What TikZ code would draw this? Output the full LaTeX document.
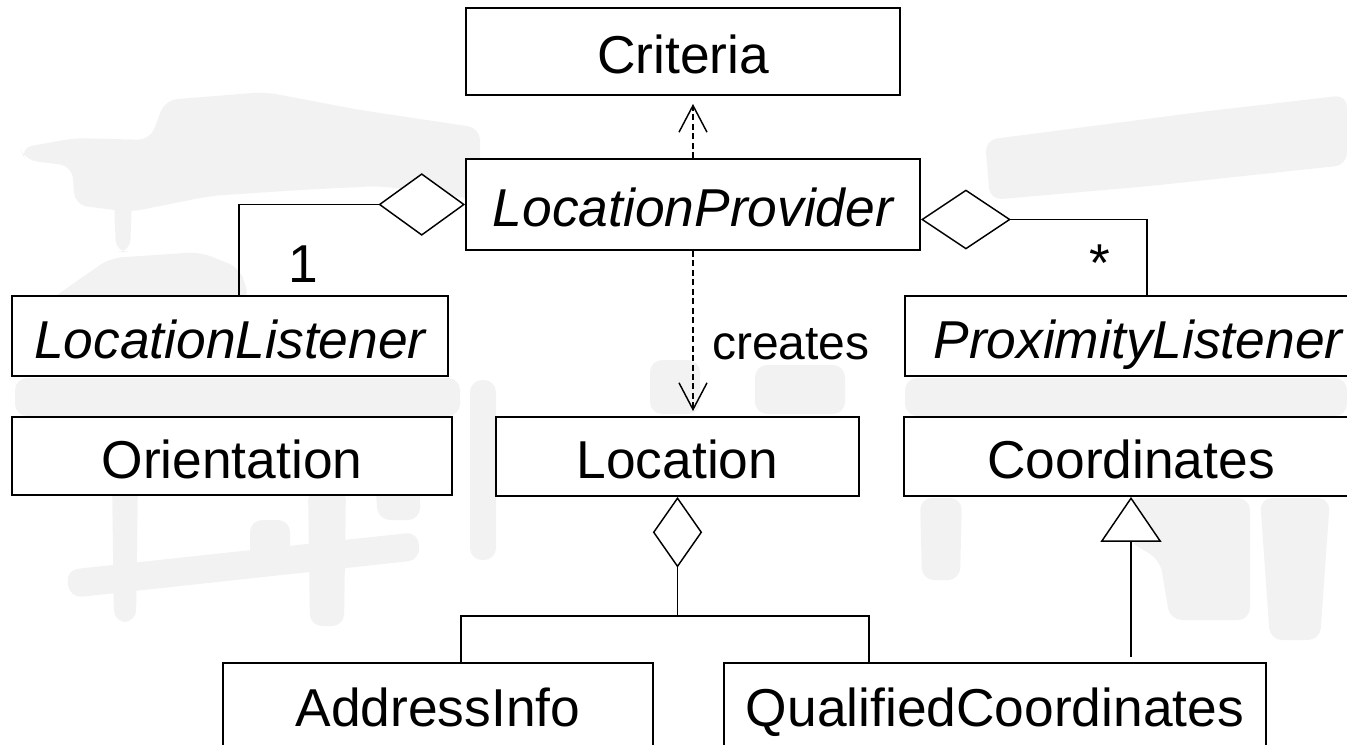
\documentclass[tikz,border=0pt]{standalone}
\usepackage{fontspec}
\setmainfont{Liberation Sans}
\usetikzlibrary{arrows.meta,calc}

\definecolor{haze}{gray}{0.95}

\begin{document}
\begin{tikzpicture}[x=0.75pt,y=-0.75pt,
  cls/.style={draw, line width=1.4pt, fill=white, inner sep=0pt,
    font=\fontsize{40}{48}\selectfont, text height=36pt, text depth=3pt},
  lowcls/.style={cls, text depth=12pt},
  sz/.style 2 args={minimum width=#1*0.75pt, minimum height=#2*0.75pt},
  assoc/.style={draw, line width=1.1pt},
  aggl/.style={assoc, {Diamond[fill=white, length=65pt, width=47pt]}-},
  aggr/.style={assoc, {Diamond[fill=white, length=67.5pt, width=45pt]}-},
  aggv/.style={assoc, {Diamond[fill=white, length=53pt, width=37pt]}-},
  gen/.style={assoc, -{Triangle[fill=white, length=33.75pt, width=45.75pt]}},
  dep/.style={assoc, dash pattern=on 4.5pt off 2.6pt,
    -{Straight Barb[length=20pt, width=21pt]}},
  lbl/.style={font=\fontsize{40}{48}\selectfont, inner sep=0pt},
  smalllbl/.style={font=\fontsize{36}{43}\selectfont, inner sep=0pt},
  blob/.style={fill=haze, draw=none, rounded corners=9pt}]

\useasboundingbox (0,0) rectangle (1347,744);
\clip (0,0) rectangle (1347,744);

% faint backdrop texture
\path[blob] (20,148) -- (75,138) -- (150,140) -- (165,100) -- (265,92) -- (360,110)
  -- (480,128) -- (480,200) -- (380,186) -- (300,190) -- (210,196) -- (130,212)
  -- (75,205) -- (72,166) -- (25,160) -- cycle;
\path[blob] (114,200) -- (132,200) -- (130,252) -- (116,252) -- cycle;
\path[blob] (50,300) -- (110,258) -- (200,252) -- (240,268) -- (250,300) -- cycle;
\path[blob] (985,140) -- (1200,112) -- (1347,95) -- (1347,165) -- (1150,186)
  -- (990,200) -- cycle;
\path[blob] (15,378) -- (460,378) -- (460,416) -- (15,416) -- cycle;
\path[blob] (112,480) -- (138,480) -- (136,622) -- (114,622) -- cycle;
\path[blob] (66,570) -- (418,532) -- (420,560) -- (70,598) -- cycle;
\path[blob] (308,488) -- (346,488) -- (344,626) -- (310,626) -- cycle;
\path[blob] (250,520) -- (290,520) -- (290,560) -- (250,560) -- cycle;
\path[blob] (375,480) -- (420,480) -- (420,520) -- (378,520) -- cycle;
\path[blob] (650,360) -- (700,360) -- (700,414) -- (650,414) -- cycle;
\path[blob] (755,365) -- (845,365) -- (845,414) -- (755,414) -- cycle;
\path[blob] (470,380) -- (496,380) -- (496,560) -- (470,560) -- cycle;
\path[blob] (905,378) -- (1347,378) -- (1347,416) -- (905,416) -- cycle;
\path[blob] (1127,498) -- (1250,498) -- (1250,620) -- (1170,620) -- (1160,560)
  -- (1127,540) -- cycle;
\path[blob] (920,498) -- (962,498) -- (960,580) -- (922,580) -- cycle;
\path[blob] (1260,498) -- (1330,498) -- (1320,640) -- (1270,640) -- cycle;

% classes
\node[cls, sz={434}{87}]   (crit)  at (683,51.5)   {Criteria};
\node[cls, sz={454}{91}]   (lp)    at (693,204.5)  {\itshape LocationProvider};
\node[cls, sz={436}{80}]   (ll)    at (230,336)    {\itshape LocationListener};
\node[cls, sz={466}{80}]   (pl)    at (1138,336)   {\itshape ProximityListener};
\node[cls, sz={440}{78}]   (ori)   at (232,456)    {Orientation};
\node[cls, sz={363}{79}]   (loc)   at (677.5,456.5) {Location};
\node[cls, sz={454}{79}]   (coord) at (1131,456.5) {Coordinates};
\node[lowcls, sz={430}{94}] (ai)   at (438,710)    {AddressInfo};
\node[lowcls, sz={542}{94}] (qc)   at (995,710)    {QualifiedCoordinates};

% dependencies
\draw[dep] (lp.north) -- ($(lp.north |- crit.south)+(0,8)$);
\draw[dep] (lp.south) -- ($(lp.south |- loc.north)+(0,-5)$);
\node[smalllbl, anchor=base west] (creates) at (712,359) {creates};

% aggregations of the listeners
\draw[aggl] (lp.west) -| ($(ll.north)+(9,0)$);
\draw[aggr] ($(lp.east)+(0,15)$) -| ($(pl.north)+(9,0)$);
\node[lbl, anchor=base] (one)  at (303,282) {1};
\node[lbl, anchor=base] (many) at (1100,281) {*};

% aggregation of the location parts
\coordinate (bar) at (677.5,616);
\draw[aggv] (loc.south) -- (bar);
\draw[assoc] ($(ai.north)+(23,0)$) |- (bar) -| ($(qc.north)+(-126,0)$);

% generalization
\draw[gen] ($(coord.south |- qc.north)+(0,-5)$) -- (coord.south);

\end{tikzpicture}
\end{document}
